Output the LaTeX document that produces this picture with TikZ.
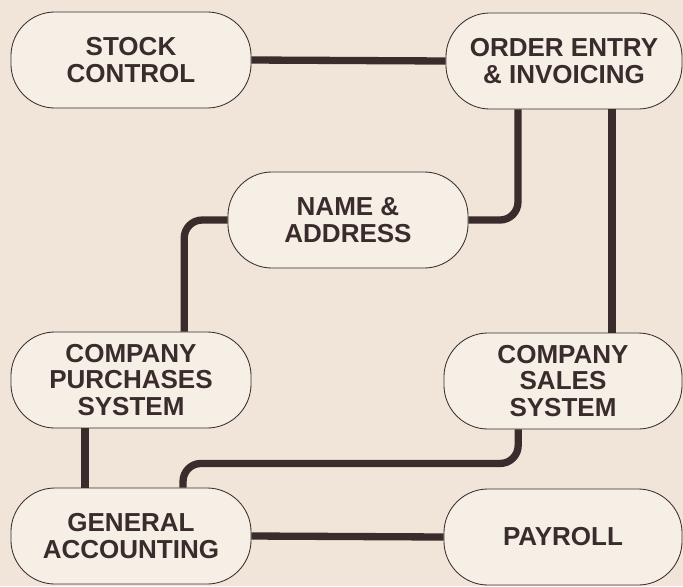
\documentclass[tikz,border=0pt]{standalone}
\usepackage{fontspec}
\setmainfont{Liberation Sans}
\usepackage{xcolor}
\usetikzlibrary{positioning}

\definecolor{paper}{HTML}{F0E5D8}
\definecolor{boxfill}{HTML}{F6EFE6}
\definecolor{ink}{HTML}{3A2C2C}

\tikzset{
    sysbox/.style={draw=ink, line width=0.6pt, fill=boxfill, rounded corners=1.1cm,
        minimum width=6cm, minimum height=2.4cm, align=center, text=ink,
        font=\bfseries\fontsize{18.5}{19}\selectfont},
    link/.style={draw=ink, line width=5.2pt, rounded corners=0.45cm}
}

\begin{document}
\begin{tikzpicture}[x=0.025cm, y=-0.025cm]
    \fill[paper] (0,0) rectangle (683,586);
    \useasboundingbox (0,0) rectangle (683,586);

    % the systems
    \node[sysbox] (stock) at (131,60) {STOCK\\CONTROL};
    \node[sysbox, minimum width=5.9cm] (order) at (564,61) {ORDER ENTRY\\\& INVOICING};
    \node[sysbox] (name) at (348,220) {NAME \&\\ADDRESS};
    \node[sysbox] (purch) at (131,380) {COMPANY\\PURCHASES\\SYSTEM};
    \node[sysbox, minimum width=5.95cm] (sales) at (563,381) {COMPANY\\SALES\\SYSTEM};
    \node[sysbox] (accnt) at (131,536) {GENERAL\\ACCOUNTING};
    \node[sysbox, minimum width=5.95cm] (payroll) at (563,537) {PAYROLL};

    % links between them
    \draw[link] (stock.east) -- (order.west);
    \draw[link] ([xshift=-1.15cm]order.south) |- (name.east);
    \draw[link] ([xshift=1.2cm]order.south) -- ([xshift=1.2cm]order.south |- sales.north);
    \draw[link] (name.west) -| ([xshift=1.33cm]purch.north);
    \draw[link] ([xshift=-1.15cm]purch.south) -- ([xshift=-1.15cm]purch.south |- accnt.north);
    \draw[link] ([xshift=-1.12cm]sales.south) -- ++(0,-0.85cm) -| ([xshift=1.3cm]accnt.north);
    \draw[link] (accnt.east) -- (payroll.west);
\end{tikzpicture}
\end{document}
